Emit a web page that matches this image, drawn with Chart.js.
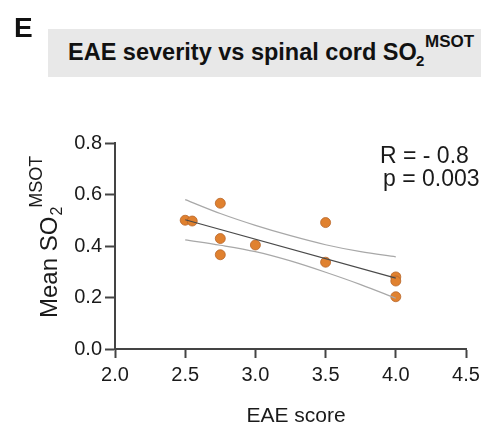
<!DOCTYPE html>
<html>
<head>
<meta charset="utf-8">
<script src="https://cdn.jsdelivr.net/npm/chart.js@4"></script>
<style>
  body { margin: 0; background: #fff; }
  #wrap { position: relative; width: 492px; height: 427px; font-family: 'Liberation Sans', Arial, Helvetica, sans-serif; color: #111; }
  #chart { position: absolute; left: 0; top: 0; }
  .abs { position: absolute; white-space: nowrap; font-weight: bold; line-height: 1; }
  #panel { left: 14px; top: 14px; font-size: 28px; }
  #titleBox { position: absolute; left: 48px; top: 29px; width: 433px; height: 48px; background: #e8e8e8; }
  #title { left: 68px; top: 41px; font-size: 23.5px; }
  #titleSub { left: 416px; top: 53px; font-size: 15px; }
  #titleSup { left: 425px; top: 33px; font-size: 17px; }
</style>
</head>
<body>
<div id="wrap">
  <canvas id="chart" width="492" height="427"></canvas>
  <div class="abs" id="panel">E</div>
  <div id="titleBox"></div>
  <div class="abs" id="title">EAE severity vs spinal cord SO</div>
  <div class="abs" id="titleSub">2</div>
  <div class="abs" id="titleSup">MSOT</div>
</div>
<script>
const FONT = "'Liberation Sans', Arial, Helvetica, sans-serif";

// measured points
const eaeScore = [2.5, 2.55, 2.75, 2.75, 2.75, 3.0, 3.5, 3.5, 4.0, 4.0, 4.0];
const meanSO2 = [0.500, 0.497, 0.566, 0.429, 0.366, 0.404, 0.491, 0.337, 0.280, 0.264, 0.203];

// regression line and 95% band
const fitX = [2.5, 4.0];
const fitY = [0.502, 0.275];
const bandX = [2.5, 2.75, 3.0, 3.25, 3.5, 3.75, 4.0];
const upperCI = [0.580, 0.526, 0.480, 0.440, 0.405, 0.378, 0.358];
const lowerCI = [0.424, 0.403, 0.378, 0.342, 0.298, 0.250, 0.197];

const statLines = ['R = - 0.8', 'p = 0.003'];
const xTitle = 'EAE score';
const yTitle = 'Mean SO';

const toXY = (xs, ys) => xs.map((x, i) => ({ x: x, y: ys[i] }));

// axis titles with sub/superscripts + stats text
const extraText = {
  id: 'extraText',
  afterDraw(chart) {
    const ctx = chart.ctx;
    ctx.save();
    ctx.fillStyle = '#1a1a1a';
    ctx.textBaseline = 'alphabetic';

    ctx.font = '21px ' + FONT;
    ctx.textAlign = 'center';
    ctx.fillText(xTitle, 296, 422);

    ctx.textAlign = 'left';
    ctx.font = '23px ' + FONT;
    ctx.fillText(statLines[0], 380, 163);
    ctx.fillText(statLines[1], 383, 186);

    ctx.translate(57, 318);
    ctx.rotate(-Math.PI / 2);
    ctx.font = '24px ' + FONT;
    ctx.fillText(yTitle, 0, 0);
    let w = ctx.measureText(yTitle).width + 1;
    ctx.font = '16px ' + FONT;
    ctx.fillText('2', w, 5);
    const w2 = ctx.measureText('2').width;
    ctx.font = '18px ' + FONT;
    ctx.fillText('MSOT', w + w2 - 1, -15);
    ctx.restore();
  }
};

new Chart(document.getElementById('chart'), {
  type: 'scatter',
  data: {
    datasets: [{
      type: 'line',
      data: toXY(fitX, fitY),
      borderColor: '#4a4a4a',
      borderWidth: 1.2,
      pointRadius: 0
    }, {
      type: 'line',
      data: toXY(bandX, upperCI),
      borderColor: '#a8a8a8',
      borderWidth: 1.2,
      pointRadius: 0,
      cubicInterpolationMode: 'monotone'
    }, {
      type: 'line',
      data: toXY(bandX, lowerCI),
      borderColor: '#a8a8a8',
      borderWidth: 1.2,
      pointRadius: 0,
      cubicInterpolationMode: 'monotone'
    }, {
      data: toXY(eaeScore, meanSO2),
      backgroundColor: '#e0812f',
      borderColor: '#b8662a',
      borderWidth: 0.8,
      pointRadius: 5
    }]
  },
  options: {
    responsive: false,
    animation: false,
    layout: { padding: { top: 143, right: 26, left: 0, bottom: 0 } },
    plugins: { legend: { display: false }, tooltip: { enabled: false } },
    scales: {
      x: {
        type: 'linear',
        min: 2, max: 4.5,
        afterFit: s => { s.height = 78; },
        ticks: {
          stepSize: 0.5,
          padding: 5,
          color: '#1a1a1a',
          font: { size: 20, family: FONT },
          callback: v => v.toFixed(1)
        },
        grid: { drawOnChartArea: false, drawTicks: true, tickLength: 9, tickColor: '#444', tickWidth: 2 },
        border: { color: '#444', width: 2 }
      },
      y: {
        min: 0, max: 0.8,
        afterFit: s => { s.width = 115; },
        ticks: {
          stepSize: 0.2,
          padding: 3,
          color: '#1a1a1a',
          font: { size: 20, family: FONT },
          callback: v => v.toFixed(1)
        },
        grid: { drawOnChartArea: false, drawTicks: true, tickLength: 10, tickColor: '#444', tickWidth: 2 },
        border: { color: '#444', width: 2 }
      }
    }
  },
  plugins: [extraText]
});
</script>
</body>
</html>
